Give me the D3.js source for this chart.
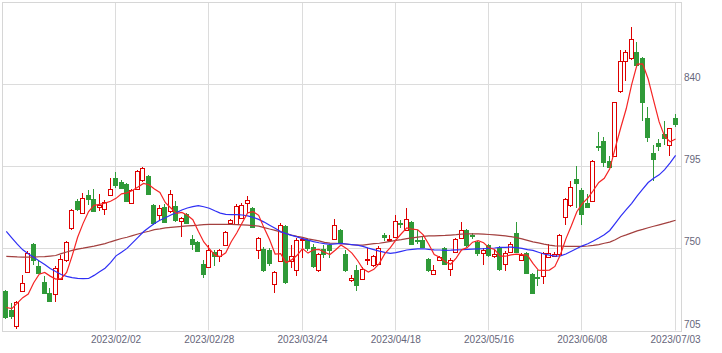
<!DOCTYPE html>
<html><head><meta charset="utf-8">
<script src="https://cdn.jsdelivr.net/npm/d3@7"></script>
<style>
html,body{margin:0;padding:0;background:#fff;}
svg{display:block;}
text{font-family:"Liberation Sans",Arial,sans-serif;font-size:10px;fill:#66667a;}
</style></head>
<body><svg id="chart" width="722" height="353"></svg>
<script>
const dates = [
"2023/01/04","2023/01/05","2023/01/06","2023/01/10","2023/01/11","2023/01/12","2023/01/13","2023/01/16","2023/01/17","2023/01/18",
"2023/01/19","2023/01/20","2023/01/23","2023/01/24","2023/01/25","2023/01/26","2023/01/27","2023/01/30","2023/01/31","2023/02/01",
"2023/02/02","2023/02/03","2023/02/06","2023/02/07","2023/02/08","2023/02/09","2023/02/10","2023/02/13","2023/02/14","2023/02/15",
"2023/02/16","2023/02/17","2023/02/20","2023/02/21","2023/02/22","2023/02/24","2023/02/27","2023/02/28","2023/03/01","2023/03/02",
"2023/03/03","2023/03/06","2023/03/07","2023/03/08","2023/03/09","2023/03/10","2023/03/13","2023/03/14","2023/03/15","2023/03/16",
"2023/03/17","2023/03/20","2023/03/22","2023/03/23","2023/03/24","2023/03/27","2023/03/28","2023/03/29","2023/03/30","2023/03/31",
"2023/04/03","2023/04/04","2023/04/05","2023/04/06","2023/04/07","2023/04/10","2023/04/11","2023/04/12","2023/04/13","2023/04/14",
"2023/04/17","2023/04/18","2023/04/19","2023/04/20","2023/04/21","2023/04/24","2023/04/25","2023/04/26","2023/04/27","2023/04/28",
"2023/05/01","2023/05/02","2023/05/08","2023/05/09","2023/05/10","2023/05/11","2023/05/12","2023/05/15","2023/05/16","2023/05/17",
"2023/05/18","2023/05/19","2023/05/22","2023/05/23","2023/05/24","2023/05/25","2023/05/26","2023/05/29","2023/05/30","2023/05/31",
"2023/06/01","2023/06/02","2023/06/05","2023/06/06","2023/06/07","2023/06/08","2023/06/09","2023/06/12","2023/06/13","2023/06/14",
"2023/06/15","2023/06/16","2023/06/19","2023/06/20","2023/06/21","2023/06/22","2023/06/23","2023/06/26","2023/06/27","2023/06/28",
"2023/06/29","2023/06/30","2023/07/03"];

const open = [
726.4,716.0,707.7,726.8,737.0,752.2,740.1,731.5,725.5,725.1,
733.4,743.4,761.4,776.0,769.4,779.1,776.9,772.7,771.8,779.5,
788.3,786.1,785.5,775.1,782.8,787.3,789.5,774.0,768.5,772.7,
770.3,773.2,765.0,769.0,755.1,753.3,741.6,739.7,748.0,745.6,
752.0,763.9,763.6,766.8,775.1,772.1,749.3,749.8,748.9,730.6,
743.0,762.1,742.9,738.3,754.4,754.4,750.7,737.9,749.8,751.6,
755.3,760.3,747.1,732.4,737.9,733.4,743.8,740.7,741.6,757.5,
754.4,756.2,763.9,760.3,764.4,754.8,754.8,744.0,736.1,743.8,
750.2,738.9,748.0,755.9,760.3,757.1,753.5,747.6,751.6,745.6,
750.4,741.6,748.0,758.4,743.8,747.4,735.7,734.1,734.6,745.2,
746.0,746.7,767.2,773.6,787.9,782.2,774.9,776.0,806.1,808.7,
797.7,800.7,836.2,852.6,854.1,857.7,854.1,821.2,802.0,808.0,
812.4,806.5,821.2];

const high = [
727.3,720.0,720.9,735.2,748.5,752.8,743.8,734.8,728.4,740.1,
746.2,753.8,771.4,777.3,780.6,782.2,782.4,780.0,776.7,788.8,
791.9,787.7,785.7,782.4,792.8,794.8,790.1,774.1,773.6,774.1,
782.2,776.0,767.0,769.2,757.1,753.8,743.8,751.6,748.9,749.5,
759.3,765.9,774.5,774.9,778.5,772.5,756.0,750.5,750.0,737.4,
763.9,762.6,751.6,755.9,756.2,755.3,752.2,747.3,751.6,752.6,
766.3,760.4,748.9,735.2,740.7,739.6,750.4,746.2,751.1,758.4,
757.1,768.1,765.8,772.3,764.8,759.9,756.0,744.5,740.7,745.6,
750.5,744.5,755.5,764.4,760.4,758.2,753.8,750.0,752.2,748.9,
751.1,748.4,753.3,764.4,747.3,747.8,736.3,737.9,747.8,752.2,
747.8,757.7,777.4,786.9,795.2,782.9,780.0,798.3,813.8,811.1,
800.5,830.3,858.7,858.7,871.1,863.2,854.8,827.2,806.5,810.2,
819.9,815.9,823.4];

const low = [
712.1,712.0,706.5,726.8,736.8,741.6,736.3,725.3,720.9,721.1,
733.0,742.9,760.6,770.9,769.2,774.5,770.3,770.9,769.0,779.4,
783.6,782.9,775.8,774.7,782.4,786.8,779.6,763.5,766.3,764.3,
769.8,764.8,756.6,763.7,749.8,748.4,734.3,739.6,740.7,742.9,
751.6,763.7,763.2,766.5,769.9,761.5,744.9,737.4,740.7,726.0,
742.9,731.3,739.7,735.2,745.2,748.9,739.8,737.7,745.2,745.2,
754.9,753.3,737.4,731.9,727.0,733.0,741.2,740.1,741.2,754.8,
753.8,756.0,761.7,759.9,752.2,752.8,750.5,737.4,735.7,743.4,
741.2,735.2,747.8,755.5,751.1,755.5,746.2,741.6,745.6,745.1,
737.9,737.9,747.8,747.8,743.4,736.3,725.3,729.7,731.0,745.1,
745.6,746.2,763.6,773.1,772.7,763.6,772.5,775.8,803.8,795.0,
794.5,800.5,835.6,842.2,853.7,849.9,820.6,808.9,787.3,803.8,
807.1,801.0,817.0];

const close = [
712.3,713.2,720.5,731.2,747.6,743.4,736.4,725.5,721.1,739.4,
744.4,753.5,771.2,771.8,777.8,776.9,770.5,773.6,775.4,782.8,
784.6,783.3,776.0,781.8,792.4,794.3,780.0,763.9,772.3,764.4,
780.0,765.4,766.6,763.9,752.6,748.5,735.7,748.9,745.6,748.9,
758.8,765.8,773.1,773.6,776.3,761.7,755.9,737.9,741.9,737.0,
762.6,731.5,745.6,754.4,755.3,750.4,740.1,746.7,747.1,748.9,
762.6,753.5,737.9,733.9,729.7,738.9,744.4,745.6,750.4,756.2,
755.3,765.0,763.2,766.3,752.6,754.0,750.7,737.9,737.9,745.2,
741.6,743.8,754.9,760.3,751.6,756.6,747.6,749.3,746.2,747.1,
738.5,747.6,752.6,748.0,746.5,736.4,725.5,733.7,747.4,747.4,
746.7,757.3,777.1,783.6,785.8,768.7,772.7,797.7,805.7,797.4,
794.6,830.0,852.6,857.7,864.5,850.4,830.3,811.1,798.7,806.1,
810.5,815.7,818.4];

const ma5 = [
717.6,717.0,720.0,723.0,725.0,731.2,735.8,736.8,734.8,733.2,
733.4,736.8,745.9,756.1,763.7,770.2,773.6,774.1,774.8,775.8,
777.4,779.9,780.4,781.7,783.6,785.6,784.9,782.5,780.6,775.0,
772.1,769.2,769.7,768.1,765.7,759.4,753.5,749.9,746.3,745.5,
747.6,753.6,758.4,764.0,769.5,770.1,768.1,761.1,754.7,746.9,
747.1,742.2,743.7,746.2,749.9,747.4,749.2,749.4,747.9,746.6,
749.1,751.8,750.0,747.4,743.5,738.8,737.0,738.5,741.8,747.1,
750.4,754.5,758.0,761.2,760.5,760.2,757.4,752.3,746.6,745.1,
742.7,741.3,744.7,749.2,750.4,753.4,754.2,753.1,750.3,749.4,
745.7,745.7,746.4,746.8,746.6,746.2,741.8,738.0,737.9,738.1,
740.1,746.5,755.2,762.4,770.1,774.5,777.6,781.7,786.1,788.4,
793.6,805.1,816.1,826.5,839.9,851.0,851.1,842.8,831.0,819.3,
811.3,808.4,809.9];

const ma25 = [
759.3,755.8,752.3,749.2,747.1,745.1,743.1,741.1,739.0,737.3,
735.7,734.7,734.0,733.6,733.4,733.5,735.2,737.2,739.1,742.2,
745.9,747.9,750.0,753.0,756.0,759.1,761.4,763.6,765.4,766.8,
768.3,769.6,771.0,772.1,772.9,773.4,772.8,772.0,770.6,769.3,
768.6,768.5,768.5,768.3,767.8,767.0,765.9,764.4,762.7,761.0,
759.2,758.1,757.1,756.3,755.3,754.5,753.7,753.1,752.6,752.2,
752.5,752.7,752.4,752.1,751.8,751.1,750.1,749.3,748.5,747.8,
747.3,747.7,748.4,749.1,749.5,749.7,749.8,749.5,749.2,749.1,
748.9,749.0,749.2,749.3,749.5,749.6,749.7,749.8,750.0,750.2,
750.5,750.6,750.7,750.4,750.0,749.3,748.9,747.9,746.9,746.3,
745.8,745.9,746.9,748.4,749.9,751.4,752.5,754.0,755.7,757.5,
759.8,763.7,767.7,771.2,774.7,778.8,782.5,786.1,788.4,790.3,
793.1,796.9,801.0];

const ma75 = [
745.6,745.5,745.3,745.2,745.2,745.2,745.4,745.5,745.8,746.1,
747.1,748.0,748.9,749.6,750.1,750.7,751.2,751.9,752.6,753.6,
754.5,755.4,756.1,757.0,757.9,758.7,759.4,760.3,760.7,761.2,
761.5,761.8,762.1,762.3,762.5,762.7,763.0,763.1,763.2,763.2,
763.2,763.1,763.0,762.9,762.7,762.5,762.2,761.4,760.6,759.9,
759.0,758.1,757.3,756.6,756.0,755.2,754.7,754.1,753.3,752.9,
752.8,752.6,752.3,752.0,751.8,751.8,752.2,752.6,752.8,753.3,
753.8,754.4,754.8,755.3,755.8,756.2,756.6,756.8,756.9,757.0,
757.1,757.3,757.5,757.8,758.0,758.0,757.9,757.8,757.6,757.4,
757.1,756.8,756.4,755.9,755.2,754.4,753.6,753.0,752.3,751.8,
751.4,751.3,751.1,751.1,751.1,751.1,751.3,751.6,752.1,752.8,
753.4,754.7,756.4,757.4,758.5,759.6,760.4,761.3,762.1,762.9,
763.7,764.5,765.4];

const yTicks = [705, 750, 795, 840];
const xTickLabels = ["2023/02/02","2023/02/28","2023/03/24","2023/04/18","2023/05/16","2023/06/08","2023/07/03"];

const upColor = "#dd0000", downColor = "#2f9a38";
const svg = d3.select("#chart");
const L = 2, R = 681, T = 2, B = 330.5;

const x = d3.scalePoint().domain(dates).range([6.3, 675.6]);
const y = d3.scaleLinear().domain([705, 885]).range([B, T]);

const grid = svg.append("g");
// horizontal grid
grid.selectAll("line.h").data(yTicks.filter(v => v > 705)).join("line")
  .attr("x1", L).attr("x2", R)
  .attr("y1", d => Math.round(y(d)) + 0.5).attr("y2", d => Math.round(y(d)) + 0.5)
  .attr("stroke", "#dcdcdc").attr("stroke-width", 1);
// vertical grid
grid.selectAll("line.v").data(xTickLabels).join("line")
  .attr("x1", d => Math.round(x(d)) - 0.5).attr("x2", d => Math.round(x(d)) - 0.5)
  .attr("y1", T).attr("y2", B)
  .attr("stroke", "#dcdcdc").attr("stroke-width", 1);
// border
svg.append("rect").attr("x", L + 0.5).attr("y", T + 0.5)
  .attr("width", R - L).attr("height", Math.round(B) - T)
  .attr("fill", "none").attr("stroke", "#d6d6d6").attr("stroke-width", 1);

// y labels
svg.append("g").selectAll("text").data(yTicks).join("text")
  .attr("x", 684).attr("y", d => y(d) - 3)
  .text(d => d);
// x labels
svg.append("g").selectAll("text").data(xTickLabels).join("text")
  .attr("x", d => x(d)).attr("y", 343).attr("text-anchor", "middle")
  .text(d => d);

const data = dates.map((d, i) => ({d, o: open[i], h: high[i], l: low[i], c: close[i]}));
const cg = svg.append("g");
const candle = cg.selectAll("g").data(data).join("g");
candle.append("line")
  .attr("x1", d => Math.round(x(d.d)) - 0.5).attr("x2", d => Math.round(x(d.d)) - 0.5)
  .attr("y1", d => Math.round(y(d.h))).attr("y2", d => Math.round(y(d.l)) + 1)
  .attr("stroke", d => d.c >= d.o ? upColor : downColor).attr("stroke-width", 1);
candle.each(function(d) {
  const g = d3.select(this);
  const cx = Math.round(x(d.d));
  const yt = Math.round(y(Math.max(d.o, d.c)));
  const yb = Math.round(y(Math.min(d.o, d.c)));
  if (d.c >= d.o) {
    g.append("rect").attr("x", cx - 2.5).attr("y", yt + 0.5)
      .attr("width", 4).attr("height", Math.max(1, yb - yt))
      .attr("fill", "#fff").attr("stroke", upColor).attr("stroke-width", 1);
  } else {
    g.append("rect").attr("x", cx - 3).attr("y", yt)
      .attr("width", 5).attr("height", Math.max(1, yb - yt + 1))
      .attr("fill", downColor);
  }
});

const line = arr => d3.line().x((v, i) => x(dates[i])).y(v => y(v))(arr);
svg.append("path").attr("d", line(ma75)).attr("fill", "none").attr("stroke", "#a3403f").attr("stroke-width", 1.2);
svg.append("path").attr("d", line(ma25)).attr("fill", "none").attr("stroke", "#2f2ff5").attr("stroke-width", 1.2);
svg.append("path").attr("d", line(ma5)).attr("fill", "none").attr("stroke", "#f52525").attr("stroke-width", 1.2);
</script></body></html>
